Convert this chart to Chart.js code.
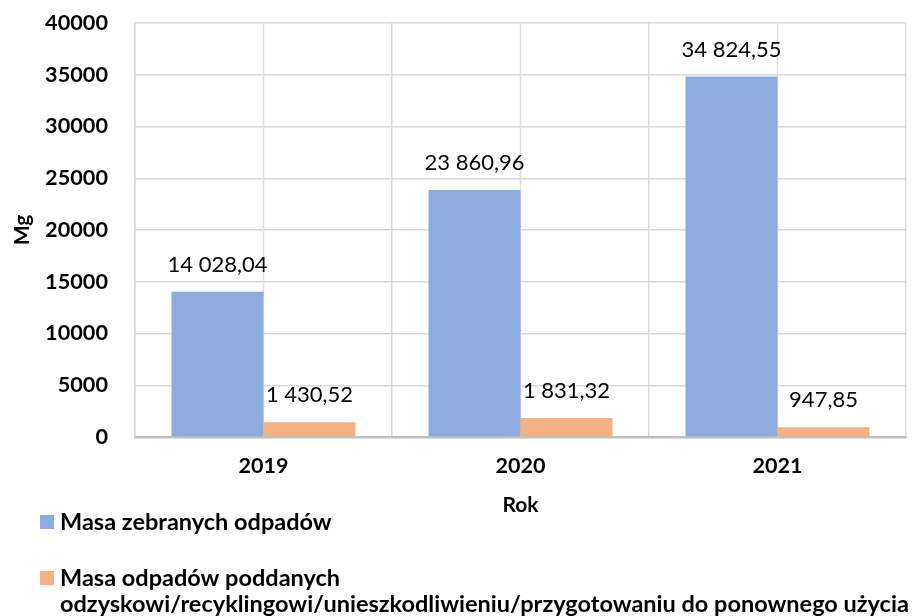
<!DOCTYPE html>
<html>
<head>
<meta charset="utf-8">
<script src="https://cdn.jsdelivr.net/npm/chart.js@4/dist/chart.umd.min.js"></script>
<style>
  html, body { margin: 0; padding: 0; background: #fff; }
  #wrap { width: 914px; height: 616px; }
</style>
</head>
<body>
<div id="wrap"><canvas id="chart"></canvas></div>
<script>
const years = ['2019', '2020', '2021'];
const collected = [14028.04, 23860.96, 34824.55];
const recovered = [1430.52, 1831.32, 947.85];
const collectedLabel = ['Masa zebranych odpadów'];
const recoveredLabel = ['Masa odpadów poddanych', 'odzyskowi/recyklingowi/unieszkodliwieniu/przygotowaniu do ponownego użycia'];
const yTicks = [0, 5000, 10000, 15000, 20000, 25000, 30000, 35000, 40000];

const FONT = 'Lato, "Open Sans", sans-serif';

// 14028.04 -> "14 028,04"
function plNumber(v) {
    const parts = v.toFixed(2).split('.');
    const whole = parts[0].replace(/\B(?=(\d{3})+(?!\d))/g, ' ');
    return whole + ',' + parts[1];
}

// extra vertical lines through the middle of each year group
const centerLines = {
    id: 'centerLines',
    beforeDatasetsDraw(chart) {
        const { ctx, chartArea, scales } = chart;
        ctx.save();
        ctx.strokeStyle = '#dedede';
        ctx.lineWidth = 1.5;
        years.forEach((y, i) => {
            const x = scales.x.getPixelForValue(i);
            ctx.beginPath();
            ctx.moveTo(x, chartArea.top);
            ctx.lineTo(x, chartArea.bottom);
            ctx.stroke();
        });
        ctx.restore();
    }
};

// value labels above every bar
const barValues = {
    id: 'barValues',
    afterDatasetsDraw(chart) {
        const ctx = chart.ctx;
        ctx.save();
        ctx.font = '22px ' + FONT;
        ctx.fillStyle = '#000';
        ctx.textAlign = 'center';
        ctx.textBaseline = 'middle';
        chart.data.datasets.forEach((ds, i) => {
            chart.getDatasetMeta(i).data.forEach((bar, j) => {
                ctx.fillText(plNumber(ds.data[j]), bar.x, bar.y - 27);
            });
        });
        ctx.restore();
    }
};

// legend stacked under the axis title, one entry per dataset, labels may wrap
const stackedLegend = {
    id: 'stackedLegend',
    afterDraw(chart, args, opts) {
        const ctx = chart.ctx;
        ctx.save();
        ctx.font = 'bold ' + opts.fontSize + 'px ' + FONT;
        ctx.textBaseline = 'middle';
        ctx.textAlign = 'left';
        let y = opts.top;
        chart.data.datasets.forEach((ds) => {
            ctx.fillStyle = ds.backgroundColor;
            ctx.fillRect(opts.left, y - opts.box / 2, opts.box, opts.box);
            ctx.fillStyle = '#000';
            ds.label.forEach((line, k) => {
                ctx.fillText(line, opts.left + opts.box + opts.gap, y + k * opts.lineHeight);
            });
            y += opts.rowGap + (ds.label.length - 1) * opts.lineHeight;
        });
        ctx.restore();
    }
};

new Chart(document.getElementById('chart'), {
    type: 'bar',
    data: {
        labels: years,
        datasets: [
            { label: collectedLabel, data: collected, backgroundColor: '#8faadc' },
            { label: recoveredLabel, data: recovered, backgroundColor: '#f4b183' }
        ]
    },
    plugins: [centerLines, barValues, stackedLegend],
    options: {
        responsive: true,
        maintainAspectRatio: false,
        animation: false,
        layout: { padding: { left: 10, right: 8, top: 23, bottom: 98 } },
        datasets: {
            bar: { barPercentage: 1, categoryPercentage: 0.716 }
        },
        scales: {
            x: {
                afterFit: (scale) => { scale.height = 81; },
                grid: { offset: true, color: '#d9d9d9', lineWidth: 1.5, drawTicks: false },
                border: { display: true, color: '#bfbfbf', width: 2.5 },
                ticks: { color: '#000', font: { family: FONT, size: 21.5, weight: 'bold' }, padding: 16 },
                title: { display: true, text: 'Rok', color: '#000', font: { family: FONT, size: 21, weight: 'bold' }, padding: { top: 0, bottom: 0 } }
            },
            y: {
                min: 0,
                max: 40000,
                afterBuildTicks: (axis) => { axis.ticks = yTicks.map(v => ({ value: v })); },
                afterFit: (scale) => { scale.width = 125; scale.paddingTop = 0; scale.paddingBottom = 0; },
                grid: { color: '#d9d9d9', lineWidth: 1.5, drawTicks: false },
                border: { display: true, color: '#d9d9d9', width: 1.5 },
                ticks: { color: '#000', font: { family: FONT, size: 21.7, weight: 'bold' }, padding: 27, callback: (v) => String(v) },
                title: { display: true, text: 'Mg', color: '#000', font: { family: FONT, size: 21, weight: 'bold' }, padding: { top: 0, bottom: 11 } }
            }
        },
        plugins: {
            legend: { display: false },
            tooltip: { enabled: false },
            stackedLegend: { left: 40, top: 522, box: 14, gap: 6, fontSize: 23.5, lineHeight: 26, rowGap: 56 }
        }
    }
});
</script>
</body>
</html>
